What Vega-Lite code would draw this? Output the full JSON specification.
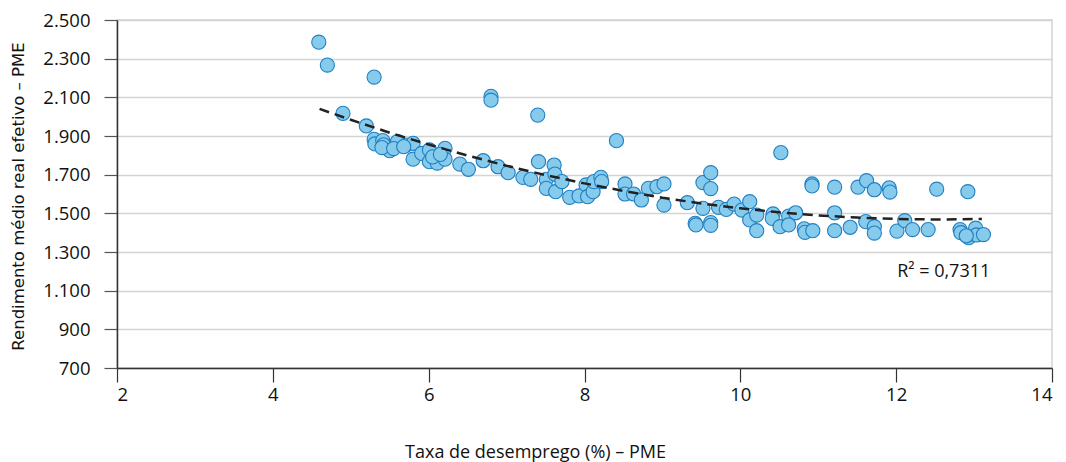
{
  "$schema": "https://vega.github.io/schema/vega-lite/v6.json",
  "width": 935,
  "height": 348,
  "autosize": "none",
  "padding": {"left": 117, "top": 20, "right": 14, "bottom": 94},
  "background": "white",
  "config": {
    "view": {"stroke": "#d4d4d4", "strokeWidth": 1.5},
    "font": "Open Sans",
    "axis": {"labelOverlap": false, "labelFontSize": 18.5, "labelFont": "Open Sans", "labelColor": "#111111", "titleFontWeight": "normal", "titleColor": "#111111", "titleFont": "Open Sans"}
  },
  "datasets": {
    "pts": [
      {"x": 4.59, "y": 2385}, {"x": 4.70, "y": 2267}, {"x": 5.30, "y": 2205}, {"x": 6.80, "y": 2105},
      {"x": 6.80, "y": 2085}, {"x": 7.40, "y": 2008}, {"x": 8.41, "y": 1876}, {"x": 10.52, "y": 1814},
      {"x": 4.90, "y": 2017}, {"x": 5.20, "y": 1952}, {"x": 5.30, "y": 1883}, {"x": 5.31, "y": 1859},
      {"x": 5.41, "y": 1876}, {"x": 5.42, "y": 1854}, {"x": 5.50, "y": 1824}, {"x": 5.60, "y": 1871},
      {"x": 5.71, "y": 1853}, {"x": 5.80, "y": 1862}, {"x": 5.80, "y": 1780}, {"x": 5.91, "y": 1810},
      {"x": 6.01, "y": 1828}, {"x": 6.01, "y": 1767}, {"x": 6.11, "y": 1760}, {"x": 6.21, "y": 1836},
      {"x": 6.21, "y": 1780}, {"x": 6.40, "y": 1755}, {"x": 6.51, "y": 1728}, {"x": 6.70, "y": 1772},
      {"x": 6.89, "y": 1741}, {"x": 7.02, "y": 1710}, {"x": 7.21, "y": 1686}, {"x": 7.31, "y": 1676},
      {"x": 7.41, "y": 1767}, {"x": 7.51, "y": 1676}, {"x": 7.51, "y": 1629}, {"x": 7.61, "y": 1750},
      {"x": 7.62, "y": 1703}, {"x": 7.63, "y": 1612}, {"x": 7.71, "y": 1664}, {"x": 7.81, "y": 1583},
      {"x": 7.93, "y": 1590}, {"x": 8.02, "y": 1647}, {"x": 8.04, "y": 1586}, {"x": 8.11, "y": 1612},
      {"x": 8.12, "y": 1664}, {"x": 8.21, "y": 1686}, {"x": 8.22, "y": 1664}, {"x": 8.52, "y": 1652},
      {"x": 8.52, "y": 1600}, {"x": 8.63, "y": 1600}, {"x": 8.73, "y": 1569}, {"x": 8.82, "y": 1629},
      {"x": 8.93, "y": 1638}, {"x": 9.02, "y": 1652}, {"x": 9.02, "y": 1543}, {"x": 5.40, "y": 1840},
      {"x": 5.55, "y": 1835}, {"x": 5.68, "y": 1845}, {"x": 6.05, "y": 1792}, {"x": 6.15, "y": 1805},
      {"x": 9.32, "y": 1555}, {"x": 9.42, "y": 1448}, {"x": 9.43, "y": 1440}, {"x": 9.52, "y": 1659},
      {"x": 9.52, "y": 1526}, {"x": 9.62, "y": 1710}, {"x": 9.62, "y": 1628}, {"x": 9.62, "y": 1452},
      {"x": 9.62, "y": 1438}, {"x": 9.72, "y": 1531}, {"x": 9.82, "y": 1520}, {"x": 9.92, "y": 1548},
      {"x": 10.02, "y": 1517}, {"x": 10.12, "y": 1560}, {"x": 10.12, "y": 1466}, {"x": 10.21, "y": 1491},
      {"x": 10.21, "y": 1410}, {"x": 10.42, "y": 1497}, {"x": 10.41, "y": 1474}, {"x": 10.51, "y": 1431},
      {"x": 10.62, "y": 1486}, {"x": 10.62, "y": 1440}, {"x": 10.71, "y": 1503}, {"x": 10.82, "y": 1420},
      {"x": 10.83, "y": 1402}, {"x": 10.93, "y": 1410}, {"x": 10.92, "y": 1652}, {"x": 10.92, "y": 1642},
      {"x": 11.21, "y": 1635}, {"x": 11.21, "y": 1503}, {"x": 11.21, "y": 1410}, {"x": 11.41, "y": 1428},
      {"x": 11.51, "y": 1635}, {"x": 11.62, "y": 1669}, {"x": 11.72, "y": 1622}, {"x": 11.91, "y": 1632},
      {"x": 11.92, "y": 1610}, {"x": 12.52, "y": 1625}, {"x": 12.92, "y": 1612}, {"x": 11.61, "y": 1457},
      {"x": 11.72, "y": 1431}, {"x": 11.72, "y": 1398}, {"x": 12.01, "y": 1408}, {"x": 12.11, "y": 1462},
      {"x": 12.21, "y": 1416}, {"x": 12.41, "y": 1416}, {"x": 12.82, "y": 1416}, {"x": 12.83, "y": 1400},
      {"x": 12.93, "y": 1374}, {"x": 13.02, "y": 1423}, {"x": 13.03, "y": 1388}, {"x": 13.12, "y": 1390},
      {"x": 12.90, "y": 1384}
    ],
    "trend": [
      {"x": 4.6, "y": 2040}, {"x": 5.0, "y": 1984}, {"x": 5.5, "y": 1917}, {"x": 6.0, "y": 1856},
      {"x": 6.5, "y": 1799}, {"x": 7.0, "y": 1746}, {"x": 7.5, "y": 1698}, {"x": 8.0, "y": 1655},
      {"x": 8.5, "y": 1616}, {"x": 9.0, "y": 1581}, {"x": 9.5, "y": 1551}, {"x": 10.0, "y": 1526},
      {"x": 10.5, "y": 1505}, {"x": 11.0, "y": 1489}, {"x": 11.5, "y": 1478}, {"x": 12.0, "y": 1471},
      {"x": 12.5, "y": 1468}, {"x": 13.1, "y": 1471}
    ],
    "label": [{"x": 12.61, "y": 1197, "t": "R² = 0,7311"}]
  },
  "encoding": {
    "x": {
      "field": "x", "type": "quantitative",
      "scale": {"domain": [2, 14], "nice": false, "zero": false},
      "axis": {
        "values": [2, 4, 6, 8, 10, 12, 14], "format": "d", "labelOverlap": false,
        "grid": false, "domainColor": "#333333", "domainWidth": 1.5,
        "tickColor": "#333333", "tickSize": 14, "tickWidth": 1.2,
        "labelFontSize": 18.5, "labelPadding": 3,
        "title": "Taxa de desemprego (%) – PME",
        "titleFontSize": 18, "titlePadding": 40, "titleX": 418
      }
    },
    "y": {
      "field": "y", "type": "quantitative",
      "scale": {"domain": [700, 2500], "nice": false, "zero": false},
      "axis": {
        "values": [700, 900, 1100, 1300, 1500, 1700, 1900, 2100, 2300, 2500],
        "labelExpr": "replace(format(datum.value, ','), ',', '.')", "labelOverlap": false,
        "grid": true, "gridColor": "#d4d4d4", "gridWidth": 1.5,
        "domainColor": "#333333", "domainWidth": 1.5,
        "tickColor": "#555555", "tickSize": 13, "tickWidth": 1.2,
        "labelFontSize": 18.5, "labelPadding": 14,
        "title": "Rendimento médio real efetivo – PME",
        "titleFont": "DejaVu Sans", "titleFontSize": 16.5,
        "titleX": -99, "titleY": 176, "titleBaseline": "middle", "titleAngle": -90, "titleAlign": "center"
      }
    }
  },
  "layer": [
    {
      "data": {"name": "pts"},
      "mark": {"type": "point", "shape": "circle", "filled": true, "size": 200, "fill": "#86cbec", "stroke": "#1f7fc2", "strokeWidth": 1.1, "opacity": 1, "fillOpacity": 1}
    },
    {
      "data": {"name": "trend"},
      "mark": {"type": "line", "color": "#222222", "strokeWidth": 2.5, "strokeDash": [10, 6]}
    },
    {
      "data": {"name": "label"},
      "mark": {"type": "text", "font": "Open Sans", "fontSize": 18, "color": "#111111", "align": "center", "baseline": "middle"},
      "encoding": {"text": {"field": "t"}}
    }
  ]
}
